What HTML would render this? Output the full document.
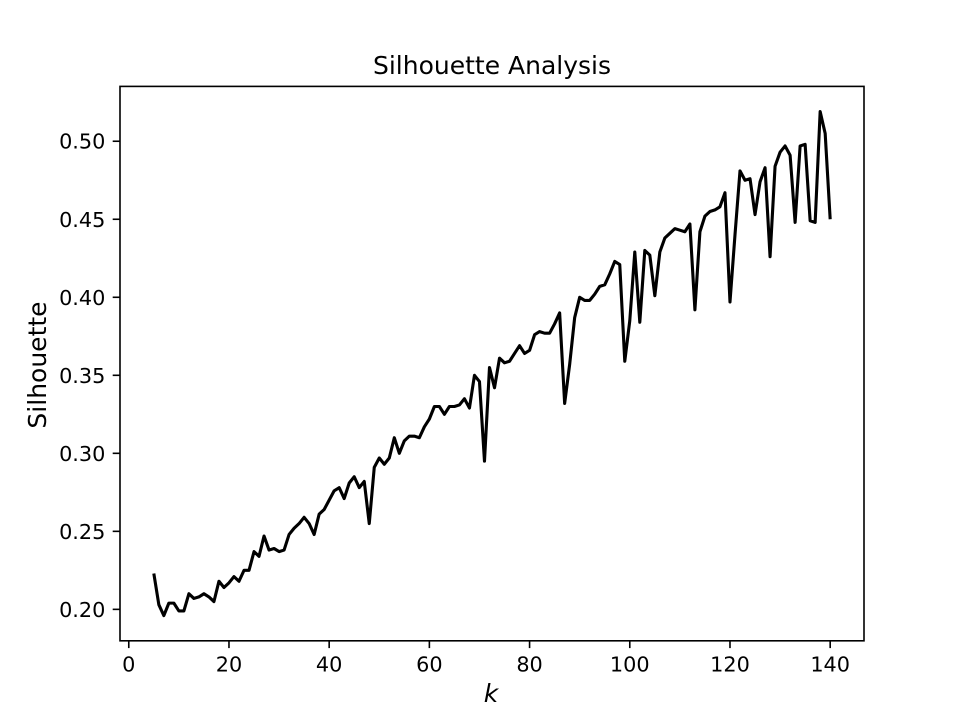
<!DOCTYPE html>
<html><head><meta charset="utf-8"><style>
body{margin:0;background:#fff}
svg text{font-family:"DejaVu Sans","Liberation Sans",sans-serif;fill:#000}
</style></head><body>
<svg id="chart" width="960" height="720" viewBox="0 0 960 720" xmlns="http://www.w3.org/2000/svg">
<rect width="960" height="720" fill="#fff"/>
<text x="492" y="74" style="font-size:25px" text-anchor="middle">Silhouette Analysis</text>
<text transform="translate(46,365) rotate(-90)" style="font-size:25px" text-anchor="middle">Silhouette</text>
<text x="491" y="702" style="font-size:25px;font-style:italic" text-anchor="middle">k</text>
<g id="xticks"></g>
<g id="yticks"></g>
<path id="line" fill="none" stroke="#000" stroke-width="3.1" stroke-linejoin="round"/>
<rect x="120" y="86.4" width="744" height="554.4" fill="none" stroke="#000" stroke-width="1.6"/>
</svg>
<script>
const kStart = 5;
const silhouette = [0.223,0.203,0.196,0.204,0.204,0.199,0.199,0.210,0.207,0.208,0.210,0.208,0.205,0.218,0.214,0.217,0.221,0.218,0.225,0.225,0.237,0.234,0.247,0.238,0.239,0.237,0.238,0.248,0.252,0.255,0.259,0.255,0.248,0.261,0.264,0.270,0.276,0.278,0.271,0.281,0.285,0.278,0.282,0.255,0.291,0.297,0.293,0.297,0.310,0.300,0.308,0.311,0.311,0.310,0.317,0.322,0.330,0.330,0.325,0.330,0.330,0.331,0.335,0.329,0.350,0.346,0.295,0.355,0.342,0.361,0.358,0.359,0.364,0.369,0.364,0.366,0.376,0.378,0.377,0.377,0.383,0.390,0.332,0.357,0.387,0.400,0.398,0.398,0.402,0.407,0.408,0.415,0.423,0.421,0.359,0.385,0.429,0.384,0.430,0.427,0.401,0.429,0.438,0.441,0.444,0.443,0.442,0.447,0.392,0.442,0.452,0.455,0.456,0.458,0.467,0.397,0.440,0.481,0.475,0.476,0.453,0.474,0.483,0.426,0.484,0.493,0.497,0.491,0.448,0.497,0.498,0.449,0.448,0.519,0.505,0.450];
const xTickLabels = [0,20,40,60,80,100,120,140];
const yTickLabels = [0.20,0.25,0.30,0.35,0.40,0.45,0.50];

const L=120,R=864,T=86.4,B=640.8;
const ks = silhouette.map((_,i)=>kStart+i);
const xmin=Math.min(...ks), xmax=Math.max(...ks);
const xpad=(xmax-xmin)*0.05;
const ymin=Math.min(...silhouette), ymax=Math.max(...silhouette);
const ypad=(ymax-ymin)*0.05;
const x=v=>L+(v-(xmin-xpad))/((xmax+xpad)-(xmin-xpad))*(R-L);
const y=v=>B-(v-(ymin-ypad))/((ymax+ypad)-(ymin-ypad))*(B-T);
const NS="http://www.w3.org/2000/svg";

document.getElementById('line').setAttribute('d',
  silhouette.map((v,i)=>(i?'L':'M')+x(ks[i]).toFixed(2)+','+y(v).toFixed(2)).join(''));

const xg=document.getElementById('xticks');
xTickLabels.forEach(t=>{
  const l=document.createElementNS(NS,'line');
  
  
  l.setAttribute('x1',x(t));l.setAttribute('x2',x(t));l.setAttribute('y1',B);l.setAttribute('y2',B+7.3);
  l.setAttribute('stroke','#000');l.setAttribute('stroke-width','1.6');
  xg.appendChild(l);
  const tx=document.createElementNS(NS,'text');
  
  
  tx.setAttribute('x',x(t));tx.setAttribute('y',B+30.5);
  tx.setAttribute('style','font-size:20.8px');tx.setAttribute('text-anchor','middle');
  tx.textContent=t;
  xg.appendChild(tx);
});
const yg=document.getElementById('yticks');
yTickLabels.forEach(t=>{
  const l=document.createElementNS(NS,'line');
  
  
  l.setAttribute('x1',L-7.3);l.setAttribute('x2',L);l.setAttribute('y1',y(t));l.setAttribute('y2',y(t));
  l.setAttribute('stroke','#000');l.setAttribute('stroke-width','1.6');
  yg.appendChild(l);
  const tx=document.createElementNS(NS,'text');
  
  
  tx.setAttribute('x',L-14.6);tx.setAttribute('y',y(t)+7.5);
  tx.setAttribute('style','font-size:20.8px');tx.setAttribute('text-anchor','end');
  tx.textContent=t.toFixed(2);
  yg.appendChild(tx);
});
</script>
</body></html>
